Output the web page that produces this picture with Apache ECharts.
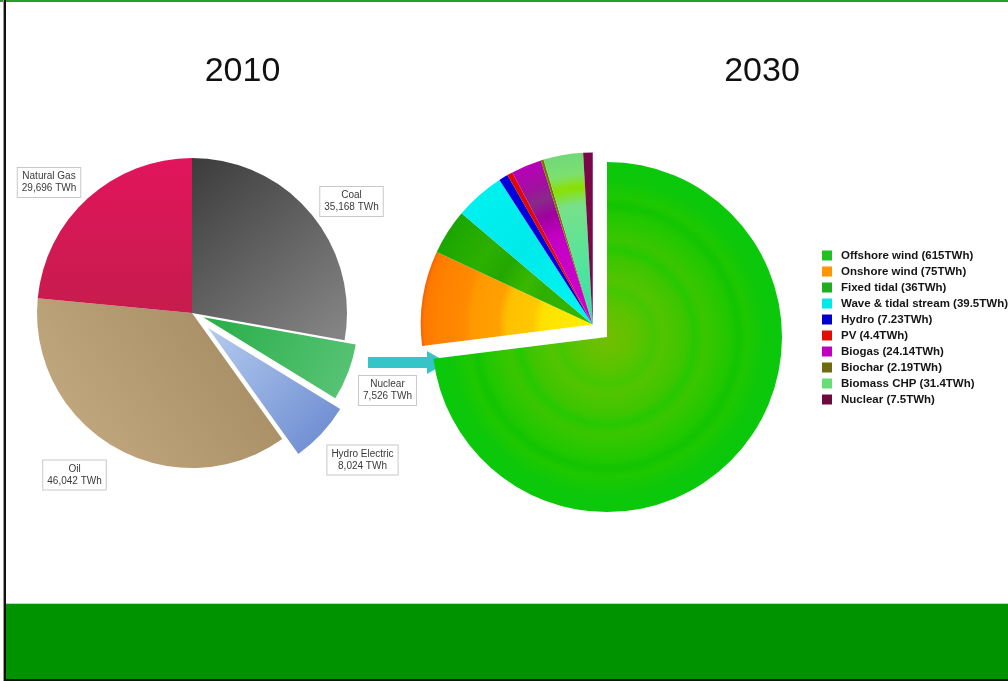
<!DOCTYPE html>
<html><head><meta charset="utf-8">
<script src="https://cdn.jsdelivr.net/npm/echarts@6.0.0/dist/echarts.min.js"></script>
<style>html,body{margin:0;padding:0;background:#fff;overflow:hidden}#c{width:1008px;height:681px}</style>
</head><body><div id="c"></div><script>
// ---------- data ----------
const titles = ['2010', '2030'];
const categories2010 = ['Coal', 'Nuclear', 'Hydro Electric', 'Oil', 'Natural Gas'];
const values2010 = [35168, 7526, 8024, 46042, 29696];
const categories2030 = ['Offshore wind', 'Onshore wind', 'Fixed tidal', 'Wave & tidal stream', 'Hydro', 'PV', 'Biogas', 'Biochar', 'Biomass CHP', 'Nuclear'];
const values2030 = [615, 75, 36, 39.5, 7.23, 4.4, 24.14, 2.19, 31.4, 7.5];
const unit = 'TWh';

// ---------- layout / style ----------
const C1 = [192, 313], R1 = 155;
const C2 = [607, 337], R2 = 175, R2b = 172;
const explode2010 = [0, 12, 22, 0, 0];
const explode2030Group = 19;
const labelPos2010 = [[351.5, 201.5], [387.5, 390.5], [362.5, 460], [74.5, 475], [49, 182.5]];
const titleX = [242.5, 762];

function lin(x, y, x2, y2, stops) {
  return { type: 'linear', x, y, x2, y2, colorStops: stops.map(s => ({ offset: s[0], color: s[1] })) };
}
function rad(cx, cy, r, stops) {
  return { type: 'radial', x: cx, y: cy, r, global: true, colorStops: stops.map(s => ({ offset: s[0], color: s[1] })) };
}
const colors2010 = [
  lin(0, 0, 1, 1, [[0, '#3c3c3c'], [1, '#878787']]),
  lin(0, 0, 1, 1, [[0, '#27ad47'], [1, '#5cc579']]),
  lin(0, 0, 1, 1, [[0, '#b4cbee'], [1, '#6787cf']]),
  lin(0, 1, 1, 0, [[0, '#c7ad84'], [1, '#a1875e']]),
  lin(0, 0, 0, 1, [[0, '#e1155c'], [1, '#c61c4d']])
];

// angles (start at 12 o'clock, clockwise)
function midAngleDeg(values, i0, i1) {
  const tot = values.reduce((a, b) => a + b, 0);
  let s = 0; for (let i = 0; i < i0; i++) s += values[i];
  let e = s; for (let i = i0; i <= i1; i++) e += values[i];
  return 90 - 360 * (s + e) / 2 / tot;
}
function shifted(center, deg, d) {
  const r = deg * Math.PI / 180;
  return [center[0] + d * Math.cos(r), center[1] - d * Math.sin(r)];
}

const gMid = midAngleDeg(values2030, 1, values2030.length - 1);
const C2b = shifted(C2, gMid, explode2030Group);

const colors2030 = [
  rad(C2[0], C2[1], R2, [[0, '#72be00'], [0.12, '#64c100'], [0.2, '#56c400'], [0.27, '#44c700'], [0.32, '#52c400'], [0.45, '#3cc600'], [0.5, '#26c800'], [0.56, '#3ac600'], [0.7, '#20c800'], [0.75, '#12c400'], [0.8, '#1ec800'], [0.9, '#0dc70a'], [1, '#0ac80a']]),
  rad(C2b[0], C2b[1], R2b, [[0, '#fff000'], [0.3, '#ffe000'], [0.35, '#ffc800'], [0.5, '#ffc000'], [0.55, '#ffa000'], [0.7, '#ff9a00'], [0.75, '#ff8a00'], [0.9, '#ff8200'], [0.98, '#ff7800'], [1, '#f86000']]),
  rad(C2b[0], C2b[1], R2b, [[0, '#38b400'], [0.35, '#2eb000'], [0.45, '#3ab800'], [0.6, '#22a800'], [0.75, '#2cb000'], [1, '#1aa600']]),
  rad(C2b[0], C2b[1], R2b, [[0, '#00f4f4'], [0.6, '#00eaea'], [1, '#00f0f0']]),
  '#0000dd',
  '#e00800',
  rad(C2b[0], C2b[1], R2b, [[0, '#d000d0'], [0.55, '#c400c4'], [0.68, '#a000a0'], [0.78, '#882a88'], [0.86, '#a010a0'], [1, '#b800b8']]),
  '#7a7400',
  rad(C2b[0], C2b[1], R2b, [[0, '#30e0b0'], [0.4, '#58e49a'], [0.7, '#78e08a'], [0.8, '#8ae000'], [0.88, '#7ce070'], [1, '#70d878']]),
  '#780848'
];
const legendColors2030 = ['#22c022', '#ff9500', '#1fae1f', '#00e8e8', '#0000cc', '#e01000', '#c000c0', '#6e6a10', '#66dd77', '#6e0a3e'];
const names2030 = categories2030.map((n, i) => n + ' (' + values2030[i] + unit + ')');

const TRANSPARENT = 'rgba(0,0,0,0)';
function pie(center, radius, names, values, colors, visible, extra) {
  return Object.assign({
    type: 'pie', center, radius, startAngle: 90, clockwise: true,
    silent: true, animation: false, avoidLabelOverlap: false,
    emphasis: { disabled: true },
    label: { show: false }, labelLine: { show: false },
    data: names.map((n, i) => ({
      name: n, value: values[i],
      itemStyle: { color: visible(i) ? colors[i] : TRANSPARENT, borderWidth: 0 }
    }))
  }, extra || {});
}

const series = [];
// 2010 main pie (non-exploded slices) with labels
series.push(pie(C1, R1, categories2010, values2010, colors2010, i => explode2010[i] === 0, {
  label: {
    show: true,
    formatter: p => p.name + '\n' + p.value.toLocaleString('en-US') + ' ' + unit,
    fontFamily: 'Liberation Sans, Arial, sans-serif', fontSize: 10, lineHeight: 12,
    color: '#3a3a3a', backgroundColor: '#fff', borderColor: '#c8c8c8', borderWidth: 1,
    padding: [3, 4, 2, 4], align: 'center'
  },
  labelLayout: params => {
    const p = labelPos2010[params.dataIndex];
    return { x: p[0], y: p[1], align: 'center', verticalAlign: 'middle' };
  }
}));
// 2010 exploded slices
explode2010.forEach((d, k) => {
  if (!d) return;
  const c = shifted(C1, midAngleDeg(values2010, k, k), d);
  series.push(pie(c, R1, categories2010, values2010, colors2010, i => i === k));
});
// 2030: offshore wind
series.push(pie(C2, R2, names2030, values2030, colors2030, i => i === 0));
// 2030: remaining sources, exploded as a group
series.push(pie(C2b, R2b, names2030, values2030, colors2030, i => i > 0));

const graphic = [
  { type: 'rect', shape: { x: 0, y: 0, width: 1008, height: 2 }, style: { fill: '#1ea41e' } },
  { type: 'rect', shape: { x: 3, y: 0, width: 1, height: 681 }, style: { fill: '#9a9a9a' } },
  { type: 'rect', shape: { x: 4, y: 0, width: 2, height: 681 }, style: { fill: '#111' } },
  { type: 'rect', shape: { x: 6, y: 603, width: 1002, height: 1 }, style: { fill: '#b8d8b8' } },
  { type: 'rect', shape: { x: 6, y: 604, width: 1002, height: 75 }, style: { fill: '#009300' } },
  { type: 'rect', shape: { x: 4, y: 679, width: 1004, height: 2 }, style: { fill: '#111' } },
  { type: 'rect', shape: { x: 368, y: 357, width: 60, height: 11 }, style: { fill: '#35c5c8' } },
  { type: 'polygon', shape: { points: [[427, 351], [447, 362.5], [427, 374]] }, style: { fill: '#35c5c8' } }
];
titles.forEach((t, i) => graphic.push({
  type: 'text', x: titleX[i], y: 72,
  style: { text: t, font: '34px "Liberation Sans", Arial, sans-serif', fill: '#111', align: 'center', verticalAlign: 'middle' }
}));

const chart = echarts.init(document.getElementById('c'), null, { renderer: 'canvas' });
chart.setOption({
  backgroundColor: '#fff',
  animation: false,
  legend: {
    orient: 'vertical', left: 822, top: 249.5, padding: 0,
    icon: 'rect', itemWidth: 10, itemHeight: 10, itemGap: 4,
    selectedMode: false,
    textStyle: { fontFamily: 'Liberation Sans, Arial, sans-serif', fontWeight: 'bold', fontSize: 11.5, lineHeight: 12, color: '#151515', padding: [0, 0, 0, 4] },
    data: names2030.map((n, i) => ({ name: n, itemStyle: { color: legendColors2030[i] } }))
  },
  series,
  graphic
});
</script></body></html>
